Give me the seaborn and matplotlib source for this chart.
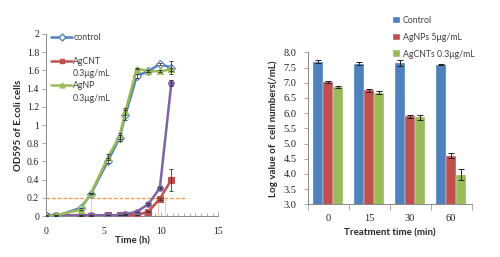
import numpy as np
import pandas as pd
import matplotlib
matplotlib.use("Agg")
import matplotlib.pyplot as plt
from matplotlib.ticker import MultipleLocator
from matplotlib.lines import Line2D
import seaborn as sns

# ---------------- data: left panel (growth curves) ----------------
time_h = [0, 0.9, 3.0, 3.9, 5.4, 6.4, 6.9, 7.9, 8.9, 9.9, 10.9]
od_control = [0.00, 0.00, 0.09, 0.24, 0.61, 0.86, 1.11, 1.54, 1.59, 1.67, 1.63]
od_agcnt = [0.00, 0.00, 0.00, 0.00, 0.01, 0.01, 0.01, 0.01, 0.05, 0.19, 0.40]
od_agnp = [0.00, 0.01, 0.07, 0.25, 0.65, 0.88, 1.15, 1.62, 1.59, 1.59, 1.61]
od_purple = [0.01, 0.01, 0.01, 0.01, 0.01, 0.01, 0.02, 0.05, 0.13, 0.31, 1.46]
err_control = [0.0, 0.0, 0.0, 0.0, 0.03, 0.03, 0.05, 0.02, 0.01, 0.01, 0.07]
err_agcnt = [0.0, 0.0, 0.0, 0.0, 0.0, 0.0, 0.0, 0.0, 0.01, 0.01, 0.12]
err_agnp = [0.0, 0.0, 0.0, 0.0, 0.03, 0.03, 0.04, 0.01, 0.01, 0.01, 0.02]
err_purple = [0.0, 0.0, 0.0, 0.0, 0.0, 0.0, 0.0, 0.0, 0.01, 0.01, 0.03]
left_names = ["control", "AgCNT", "AgNP"]
left_conc = "0.3\u03bcg/mL"
threshold = 0.2
threshold_times = [3.9, 9.75, 10.35]

# ---------------- data: right panel (bars) ----------------
treat_times = ["0", "15", "30", "60"]
bar_groups = ["Control", "AgNPs 5\u03bcg/mL", "AgCNTs 0.3\u03bcg/mL"]
log_control = [7.70, 7.63, 7.65, 7.60]
log_agnps = [7.03, 6.75, 5.90, 4.60]
log_agcnts = [6.85, 6.68, 5.87, 3.97]
se_control = [0.06, 0.04, 0.10, 0.02]
se_agnps = [0.04, 0.04, 0.05, 0.08]
se_agcnts = [0.03, 0.05, 0.08, 0.18]

BLUE = "#4F81BD"
RED = "#C0504D"
GREEN = "#9BBB59"
PURPLE = "#8064A2"
ORANGE = "#F79646"

sns.set_theme(style="white")
plt.rcParams["font.family"] = ["Lato", "DejaVu Sans"]

fig = plt.figure(figsize=(5.0, 2.57), dpi=100)
axL = fig.add_axes([0.092, 0.159, 0.345, 0.709])
axR = fig.add_axes([0.615, 0.205, 0.328, 0.591])

SERIF = "Liberation Serif"
label_font = dict(family=["Lato", "DejaVu Sans"], size=7, weight="bold")
leg_prop = dict(family=["Lato", "DejaVu Sans"], size=6.3)

# ---------------- left panel ----------------
axL.plot([0, 12.2], [threshold, threshold], color=ORANGE, lw=0.9, ls=(0, (3, 1.5)), zorder=1)
for tt in threshold_times:
    axL.plot([tt, tt], [0, threshold], color=ORANGE, lw=0.5, alpha=0.7, zorder=1)

series = [
    (od_control, err_control, BLUE, "D", "white"),
    (od_agcnt, err_agcnt, RED, "s", RED),
    (od_agnp, err_agnp, GREEN, "^", GREEN),
    (od_purple, err_purple, PURPLE, "o", PURPLE),
]
for idx in [1, 3, 0, 2]:
    vals, errs, col, mk, mfc = series[idx]
    df = pd.DataFrame({"t": time_h, "v": vals})
    sns.lineplot(data=df, x="t", y="v", ax=axL, color=col, lw=1.8, marker=mk,
                 markersize=4, markerfacecolor=mfc, markeredgecolor=col,
                 markeredgewidth=0.8, sort=False, zorder=3, legend=False)
    axL.errorbar(time_h, vals, yerr=errs, fmt="none", ecolor="#333333",
                 elinewidth=0.6, capsize=1.5, capthick=0.6, zorder=4)

blank = Line2D([], [], color="none")
handles = [
    Line2D([], [], color=BLUE, lw=1.8, marker="D", markersize=3.5, markerfacecolor="white", markeredgecolor=BLUE),
    blank,
    Line2D([], [], color=RED, lw=1.8, marker="s", markersize=3.5, markerfacecolor=RED),
    blank,
    Line2D([], [], color=GREEN, lw=1.8, marker="^", markersize=3.5, markerfacecolor=GREEN),
    blank,
]
labels = [left_names[0], " ", left_names[1], left_conc, left_names[2], left_conc]
leg = axL.legend(handles, labels, loc="upper left", bbox_to_anchor=(0.0, 1.035),
                 frameon=False, prop=leg_prop,
                 handlelength=2.4, handletextpad=0.1, labelspacing=0.36, borderaxespad=0.2)
for txt in leg.get_texts():
    txt.set_color("#404040")

axL.set_xlim(0, 15)
axL.set_ylim(0, 2)
axL.xaxis.set_major_locator(MultipleLocator(5))
axL.xaxis.set_minor_locator(MultipleLocator(0.5))
axL.set_yticks(np.arange(0, 2.01, 0.2))
axL.set_yticklabels(["0", "0.2", "0.4", "0.6", "0.8", "1", "1.2", "1.4", "1.6", "1.8", "2"])
axL.tick_params(axis="x", which="both", direction="in", length=3, width=0.5, color="#888888",
                bottom=True, pad=8, labelsize=7, labelcolor="#222222", labelfontfamily=SERIF)
axL.tick_params(axis="x", which="minor", length=2.5)
axL.tick_params(axis="y", direction="out", length=3, width=0.5, color="#888888", left=True, pad=2,
                labelsize=7, labelcolor="#222222", labelfontfamily=SERIF)
axL.set_xlabel("Time (h)", labelpad=0, **label_font)
axL.set_ylabel("OD595 of E.coli cells", labelpad=3, **label_font)
for s in ["top", "right"]:
    axL.spines[s].set_visible(False)
for s in ["left", "bottom"]:
    axL.spines[s].set_color("#888888")
    axL.spines[s].set_linewidth(0.7)

# ---------------- right panel ----------------
df_bar = pd.DataFrame({
    "time": treat_times * 3,
    "group": [bar_groups[0]] * 4 + [bar_groups[1]] * 4 + [bar_groups[2]] * 4,
    "value": log_control + log_agnps + log_agcnts,
})
errs_by_group = [se_control, se_agnps, se_agcnts]
sns.barplot(data=df_bar, x="time", y="value", hue="group", order=treat_times,
            hue_order=bar_groups, palette=[BLUE, RED, GREEN], ax=axR, width=0.72,
            errorbar=None, saturation=1, edgecolor="#E8EEF6", linewidth=0.3)
for cont, errs in zip(axR.containers, errs_by_group):
    xs = [p.get_x() + p.get_width() / 2 for p in cont.patches]
    ys = [p.get_height() for p in cont.patches]
    axR.errorbar(xs, ys, yerr=errs, fmt="none", ecolor="#222222", elinewidth=0.7,
                 capsize=2.2, capthick=0.7, zorder=5)

axR.set_ylim(3.0, 8.0)
axR.set_xlim(-0.5, 3.5)
axR.set_yticks(np.arange(3.0, 8.01, 0.5))
axR.set_yticklabels([f"{v:.1f}" for v in np.arange(3.0, 8.01, 0.5)])
axR.set_xticks(range(4))
axR.set_xticks([-0.5, 0.5, 1.5, 2.5, 3.5], minor=True)
axR.tick_params(axis="x", which="major", length=0, pad=7, labelsize=7.5,
                labelcolor="#222222", labelfontfamily=SERIF)
axR.tick_params(axis="x", which="minor", direction="out", length=4, width=0.5, color="#888888", bottom=True)
axR.tick_params(axis="y", direction="out", length=3, width=0.5, color="#888888", left=True, pad=5,
                labelsize=7.5, labelcolor="#222222", labelfontfamily=SERIF)
axR.set_xlabel("Treatment time (min)", labelpad=4, **label_font)
axR.set_ylabel("Log value of  cell numbers(/mL)", labelpad=4, **label_font)
for s in ["top", "right"]:
    axR.spines[s].set_visible(False)
for s in ["left", "bottom"]:
    axR.spines[s].set_color("#888888")
    axR.spines[s].set_linewidth(0.7)

legR = axR.legend(loc="lower left", bbox_to_anchor=(0.50, 0.935), frameon=False,
                  prop=leg_prop, handlelength=0.8, handleheight=0.8, handletextpad=0.3,
                  labelspacing=0.9, borderaxespad=0.0)
for txt in legR.get_texts():
    txt.set_color("#404040")

fig.savefig("out.png", dpi=100)
